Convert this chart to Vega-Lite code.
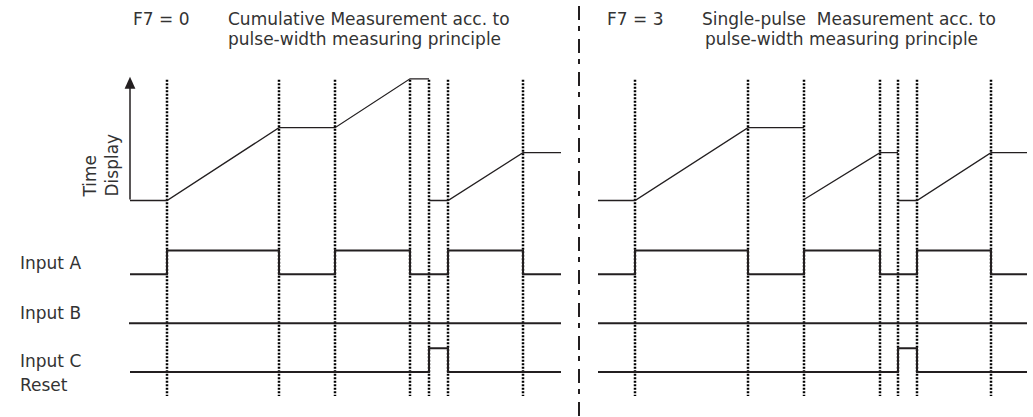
{
  "$schema": "https://vega.github.io/schema/vega-lite/v6.json",
  "width": 1033,
  "height": 417,
  "autosize": {"type": "fit", "contains": "padding"},
  "padding": 0,
  "background": "white",
  "config": {"view": {"stroke": null}},
  "datasets": {
    "events": [
      {"t": 167}, {"t": 279}, {"t": 335}, {"t": 410}, {"t": 429}, {"t": 448}, {"t": 523},
      {"t": 635}, {"t": 748}, {"t": 804}, {"t": 880}, {"t": 898}, {"t": 917}, {"t": 991}
    ],
    "display": [
      {"seg": "L1", "t": 130, "v": 201}, {"seg": "L1", "t": 167, "v": 201}, {"seg": "L1", "t": 279, "v": 128},
      {"seg": "L1", "t": 335, "v": 128}, {"seg": "L1", "t": 410, "v": 79}, {"seg": "L1", "t": 429, "v": 79},
      {"seg": "L2", "t": 429, "v": 201}, {"seg": "L2", "t": 448, "v": 201}, {"seg": "L2", "t": 523, "v": 153},
      {"seg": "L2", "t": 561, "v": 153},
      {"seg": "R1", "t": 598, "v": 201}, {"seg": "R1", "t": 635, "v": 201}, {"seg": "R1", "t": 748, "v": 128},
      {"seg": "R1", "t": 804, "v": 128},
      {"seg": "R2", "t": 804, "v": 200}, {"seg": "R2", "t": 880, "v": 153}, {"seg": "R2", "t": 898, "v": 153},
      {"seg": "R3", "t": 898, "v": 201}, {"seg": "R3", "t": 917, "v": 201}, {"seg": "R3", "t": 991, "v": 153},
      {"seg": "R3", "t": 1027, "v": 153}
    ],
    "inputs": [
      {"sig": "LA", "t": 130, "v": 275}, {"sig": "LA", "t": 167, "v": 251}, {"sig": "LA", "t": 279, "v": 275},
      {"sig": "LA", "t": 335, "v": 251}, {"sig": "LA", "t": 410, "v": 275}, {"sig": "LA", "t": 448, "v": 251},
      {"sig": "LA", "t": 523, "v": 275}, {"sig": "LA", "t": 561, "v": 275},
      {"sig": "LB", "t": 129, "v": 324}, {"sig": "LB", "t": 561, "v": 324},
      {"sig": "LC", "t": 130, "v": 373}, {"sig": "LC", "t": 429, "v": 349}, {"sig": "LC", "t": 448, "v": 373},
      {"sig": "LC", "t": 561, "v": 373},
      {"sig": "RA", "t": 598, "v": 275}, {"sig": "RA", "t": 635, "v": 251}, {"sig": "RA", "t": 748, "v": 275},
      {"sig": "RA", "t": 804, "v": 251}, {"sig": "RA", "t": 880, "v": 275}, {"sig": "RA", "t": 917, "v": 251},
      {"sig": "RA", "t": 991, "v": 275}, {"sig": "RA", "t": 1027, "v": 275},
      {"sig": "RB", "t": 598, "v": 324}, {"sig": "RB", "t": 1027, "v": 324},
      {"sig": "RC", "t": 598, "v": 373}, {"sig": "RC", "t": 898, "v": 349}, {"sig": "RC", "t": 917, "v": 373},
      {"sig": "RC", "t": 1027, "v": 373}
    ],
    "texts": [
      {"text": "F7 = 0", "t": 133, "v": 25},
      {"text": "Cumulative Measurement acc. to", "t": 228, "v": 25},
      {"text": "pulse-width measuring principle", "t": 228, "v": 45},
      {"text": "F7 = 3", "t": 607, "v": 25},
      {"text": "Single-pulse\u00a0 Measurement acc. to", "t": 702, "v": 25},
      {"text": "pulse-width measuring principle", "t": 705, "v": 45},
      {"text": "Input A", "t": 20, "v": 270},
      {"text": "Input B", "t": 20, "v": 320},
      {"text": "Input C", "t": 20, "v": 368},
      {"text": "Reset", "t": 20, "v": 392}
    ],
    "axislabel": [
      {"text": "Time", "t": 96, "v": 197},
      {"text": "Display", "t": 118, "v": 197}
    ],
    "arrow": [{"t": 130, "v": 83}],
    "divider": [{"t": 579}]
  },
  "layer": [
    {
      "data": {"name": "events"},
      "mark": {"type": "rule", "color": "#000", "strokeWidth": 2.5, "strokeDash": [2, 1.5]},
      "encoding": {
        "x": {"field": "t", "type": "quantitative", "axis": null, "scale": {"domain": [0, 1033], "nice": false, "zero": false}},
        "y": {"datum": 80, "type": "quantitative", "axis": null, "scale": {"domain": [0, 417], "nice": false, "zero": false, "reverse": true}},
        "y2": {"datum": 397}
      }
    },
    {
      "data": {"name": "divider"},
      "mark": {"type": "rule", "color": "#231f20", "strokeWidth": 2, "strokeDash": [14, 6, 5, 8]},
      "encoding": {
        "x": {"field": "t", "type": "quantitative"},
        "y": {"datum": 6, "type": "quantitative"},
        "y2": {"datum": 417}
      }
    },
    {
      "data": {"name": "display"},
      "mark": {"type": "line", "color": "#231f20", "strokeWidth": 1.3},
      "encoding": {
        "x": {"field": "t", "type": "quantitative"},
        "y": {"field": "v", "type": "quantitative"},
        "detail": {"field": "seg"}
      }
    },
    {
      "data": {"name": "inputs"},
      "mark": {"type": "line", "color": "#231f20", "strokeWidth": 2, "interpolate": "step-after"},
      "encoding": {
        "x": {"field": "t", "type": "quantitative"},
        "y": {"field": "v", "type": "quantitative"},
        "detail": {"field": "sig"}
      }
    },
    {
      "data": {"name": "arrow"},
      "mark": {"type": "rule", "color": "#231f20", "strokeWidth": 1.5},
      "encoding": {
        "x": {"field": "t", "type": "quantitative"},
        "y": {"field": "v", "type": "quantitative"},
        "y2": {"datum": 200}
      }
    },
    {
      "data": {"name": "arrow"},
      "mark": {"type": "point", "shape": "M0,-1L-0.9,1L0.9,1Z", "size": 144, "filled": true, "color": "#231f20", "opacity": 1},
      "encoding": {
        "x": {"field": "t", "type": "quantitative"},
        "y": {"field": "v", "type": "quantitative"}
      }
    },
    {
      "data": {"name": "texts"},
      "mark": {"type": "text", "font": "DejaVu Sans", "fontSize": 17, "align": "left", "baseline": "alphabetic", "color": "#333"},
      "encoding": {
        "x": {"field": "t", "type": "quantitative"},
        "y": {"field": "v", "type": "quantitative"},
        "text": {"field": "text"}
      }
    },
    {
      "data": {"name": "axislabel"},
      "mark": {"type": "text", "font": "DejaVu Sans", "fontSize": 17, "align": "left", "baseline": "alphabetic", "angle": 270, "color": "#333"},
      "encoding": {
        "x": {"field": "t", "type": "quantitative"},
        "y": {"field": "v", "type": "quantitative"},
        "text": {"field": "text"}
      }
    }
  ]
}
